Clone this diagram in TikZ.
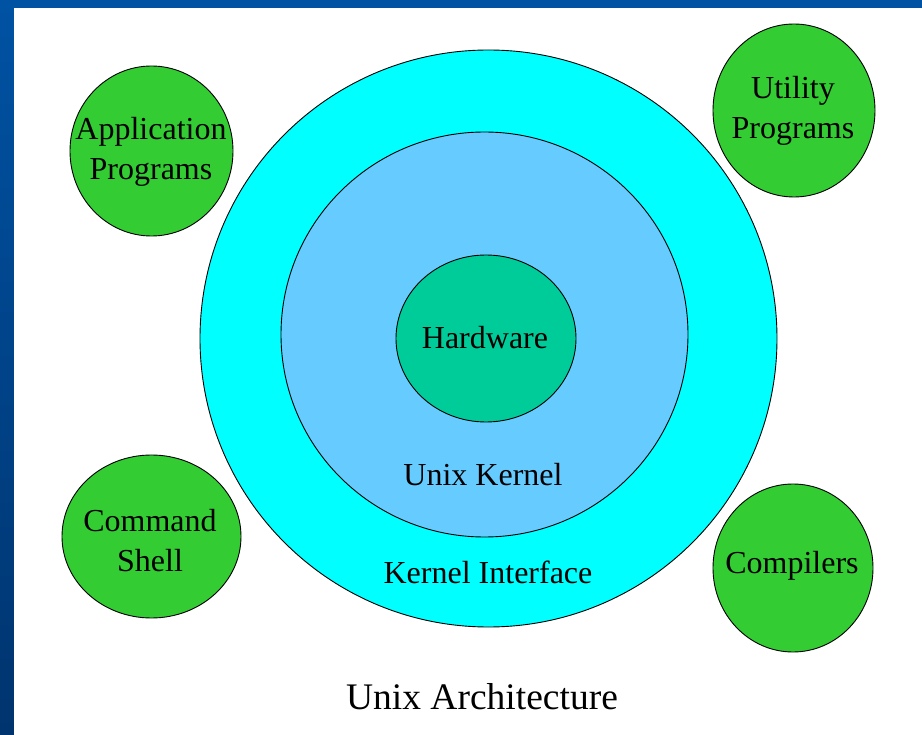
\documentclass[tikz,border=0pt]{standalone}
\usepackage{fontspec}
\setmainfont{Liberation Serif}
\usepackage{tikz}
\usetikzlibrary{shapes.geometric}
\definecolor{frame}{HTML}{0052A3}
\definecolor{framedark}{HTML}{00346E}
\definecolor{iface}{HTML}{00FFFF}
\definecolor{kernel}{HTML}{66CCFF}
\definecolor{hw}{HTML}{00CC99}
\definecolor{prog}{HTML}{33CC33}
\tikzset{
  layer/.style={ellipse, draw=black, line width=0.9pt, inner sep=0pt},
  progblob/.style={ellipse, draw=black, line width=0.9pt, fill=prog, inner sep=0pt},
  lab/.style={align=center, font=\fontsize{32}{40}\selectfont},
}
\begin{document}
\begin{tikzpicture}[x=1pt,y=-1pt]
  \useasboundingbox (0,0) rectangle (922,735);
  % slide background
  \fill[frame] (0,0) rectangle (922,8);
  \shade[top color=frame, bottom color=framedark] (0,0) rectangle (14,735);
  \fill[white] (14,8) rectangle (922,735);

  % the rings
  \node[layer, fill=iface, minimum width=577, minimum height=577] (ifc) at (488.5,338.5) {};
  \node[layer, fill=kernel, minimum width=407, minimum height=405] (krn) at (484.5,334.5) {};
  \node[layer, fill=hw, minimum width=180, minimum height=167] (hard) at (486,338.5) {};
  \node[lab] (hardlab) at (485,338) {Hardware};
  \node[lab] (krnlab) at (483,475) {Unix Kernel};
  \node[lab] (ifclab) at (488,572) {Kernel Interface};

  % programs around
  \node[progblob, minimum width=163, minimum height=170] (app) at (151.5,151) {};
  \node[progblob, minimum width=162, minimum height=173] (util) at (794,110.5) {};
  \node[progblob, minimum width=179, minimum height=163] (shell) at (151.5,536.5) {};
  \node[progblob, minimum width=160, minimum height=168] (comp) at (793,568) {};
  \node[lab] (applab) at (151,152) {Application\\Programs};
  \node[lab] (utillab) at (793,111) {Utility\\Programs};
  \node[lab] (shelllab) at (150,541) {Command\\Shell};
  \node[lab] (complab) at (792,566) {Compilers};

  \node[font=\fontsize{37.5}{44}\selectfont] (title) at (482,697) {Unix Architecture};
\end{tikzpicture}
\end{document}
